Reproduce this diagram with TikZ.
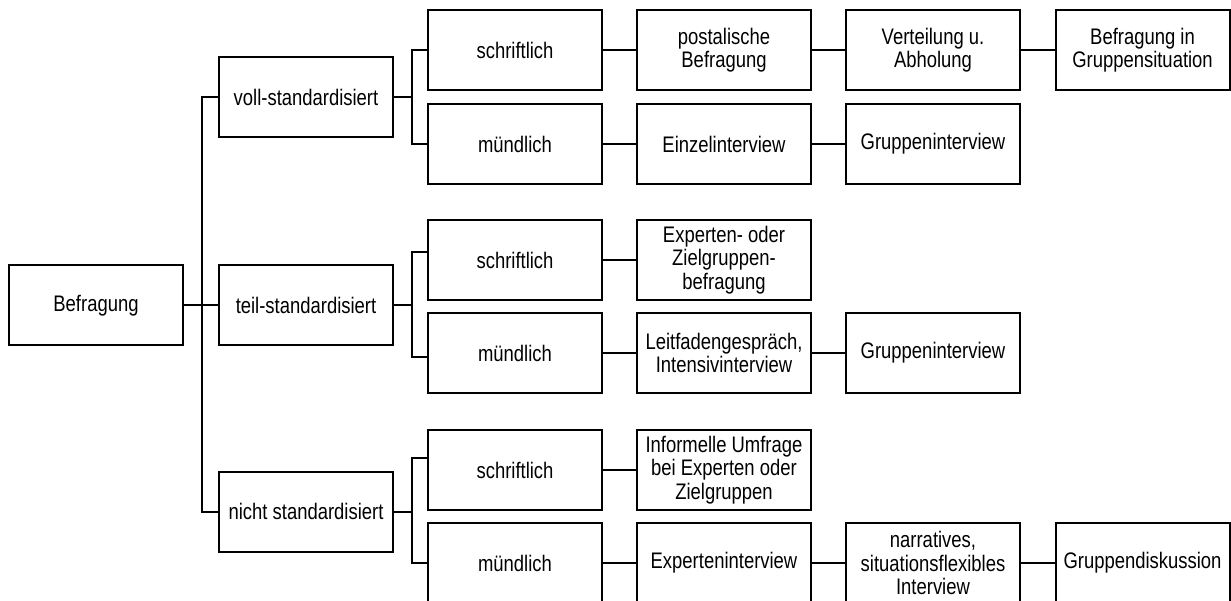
\documentclass[tikz,border=0pt]{standalone}
\usepackage{fontspec}
\setmainfont{Liberation Sans}[FakeStretch=0.82]
\begin{document}
\begin{tikzpicture}[x=1pt,y=-1pt,
  box/.style={draw, line width=2pt, minimum width=174pt, minimum height=80pt,
    inner sep=2pt, align=center,
    font=\fontsize{22.5pt}{23.5pt}\selectfont},
  link/.style={line width=2pt}]
\useasboundingbox (0,0) rectangle (1231,601);
\clip (0,0) rectangle (1231,601);

% root and first level
\node[box] (bef)   at (96,305.5)  {Befragung};
\node[box] (voll)  at (306,97)    {voll-standardisiert};
\node[box] (teil)  at (306,305.5) {teil-standardisiert};
\node[box] (nicht) at (306,511.5) {nicht standardisiert};

% second level
\node[box] (vs) at (515,50)  {schriftlich};
\node[box] (vm) at (515,144) {mündlich};
\node[box] (ts) at (515,260) {schriftlich};
\node[box] (tm) at (515,353) {mündlich};
\node[box] (ns) at (515,470) {schriftlich};
\node[box] (nm) at (515,563) {mündlich};

% third level
\node[box] (vs3) at (724,50)  {postalische\\Befragung};
\node[box] (vm3) at (724,144) {Einzelinterview};
\node[box] (ts3) at (724,260) {Experten- oder\\Zielgruppen-\\befragung};
\node[box] (tm3) at (724,353) {Leitfadengespräch,\\Intensivinterview};
\node[box] (ns3) at (724,470) {Informelle Umfrage\\bei Experten oder\\Zielgruppen};
\node[box] (nm3) at (724,563) {Experteninterview};

% fourth level
\node[box] (vs4) at (933,50)  {Verteilung u.\\Abholung};
\node[box] (vm4) at (933,144) {Gruppeninterview};
\node[box] (tm4) at (933,353) {Gruppeninterview};
\node[box] (nm4) at (933,563) {narratives,\\situationsflexibles\\Interview};

% fifth level
\node[box] (vs5) at (1142.5,50)  {Befragung in\\Gruppensituation};
\node[box] (nm5) at (1142.5,563) {Gruppendiskussion};

% trunk from the root
\coordinate (tx) at (202,0);
\draw[link] (bef.east) -- (bef.east -| tx);
\draw[link] (voll.west) -- (voll.west -| tx) -- (nicht.west -| tx) -- (nicht.west);
\draw[link] (teil.west) -- (teil.west -| tx);

% forks to the second level
\draw[link] (voll.east) -- ++(18,0) coordinate (vj);
\draw[link] (vs.west) -| (vj) |- (vm.west);
\draw[link] (teil.east) -- ++(18,0) coordinate (tj);
\draw[link] ([yshift=8pt]ts.west) -| (tj) |- ([yshift=-4pt]tm.west);
\draw[link] (nicht.east) -- ++(18,0) coordinate (nj);
\draw[link] ([yshift=12pt]ns.west) -| (nj) |- (nm.west);

% chains to the right
\draw[link] (vs) -- (vs3) -- (vs4) -- (vs5);
\draw[link] (vm) -- (vm3) -- (vm4);
\draw[link] (ts) -- (ts3);
\draw[link] (tm) -- (tm3) -- (tm4);
\draw[link] (ns) -- (ns3);
\draw[link] (nm) -- (nm3) -- (nm4) -- (nm5);
\end{tikzpicture}
\end{document}
